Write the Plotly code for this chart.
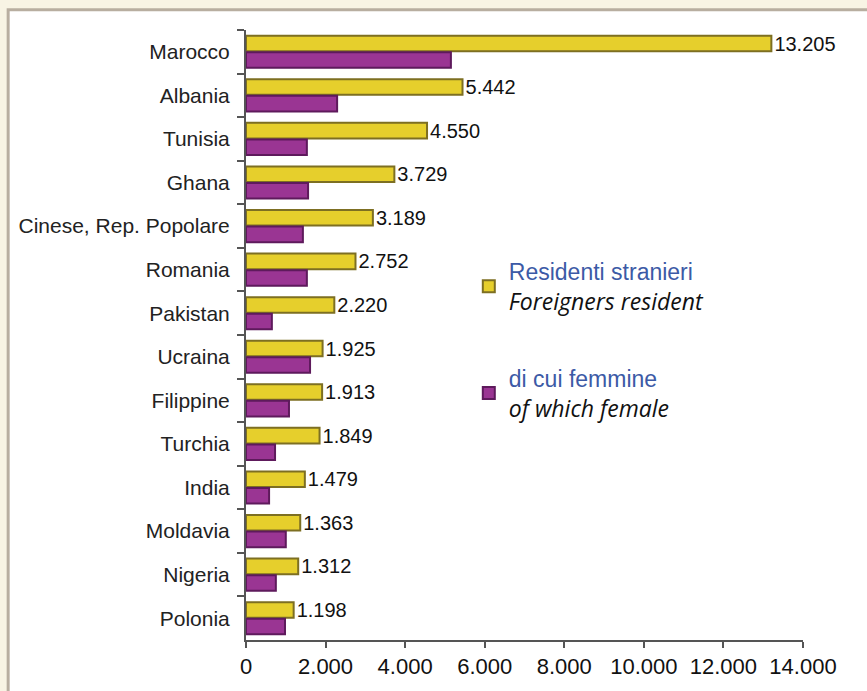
import plotly.graph_objects as go

countries = ["Marocco", "Albania", "Tunisia", "Ghana", "Cinese, Rep. Popolare", "Romania",
             "Pakistan", "Ucraina", "Filippine", "Turchia", "India", "Moldavia", "Nigeria", "Polonia"]
residents = [13205, 5442, 4550, 3729, 3189, 2752, 2220, 1925, 1913, 1849, 1479, 1363, 1312, 1198]
females = [5150, 2290, 1530, 1560, 1430, 1530, 650, 1610, 1080, 730, 580, 1000, 750, 980]

x_ticks = [0, 2000, 4000, 6000, 8000, 10000, 12000, 14000]

SANS = "Liberation Sans, Arial, sans-serif"
BLUE = "color:#3c5aa6;font-family:Liberation Sans;font-size:23px"

fig = go.Figure()
fig.add_trace(go.Bar(
    y=countries, x=residents, orientation="h", legendgroup="res",
    name=f"<span style='{BLUE}'>Residenti stranieri</span><br><i>Foreigners resident</i>",
    marker=dict(color="#e6cf2c", line=dict(color="#7d6f22", width=2)),
    texttemplate="%{x:,d}", textposition="outside", cliponaxis=False, constraintext="none",
    textfont=dict(family=SANS, size=20, color="#111111"),
))
fig.add_trace(go.Bar(
    y=countries, x=females, orientation="h", legendgroup="fem",
    name=f"<span style='{BLUE}'>di cui femmine</span><br><i>of which female</i>",
    marker=dict(color="#9a3593", line=dict(color="#5e1a5c", width=2)),
))

fig.update_layout(
    width=867, height=691,
    margin=dict(l=246, r=64, t=30, b=51, autoexpand=False),
    paper_bgcolor="#f8f4e4",
    plot_bgcolor="rgba(0,0,0,0)",
    separators=",.",
    barmode="group", bargap=0.24, bargroupgap=0.06,
    showlegend=True,
    legend=dict(x=0.40, y=0.492, xanchor="left", yanchor="middle", traceorder="grouped",
                font=dict(family="Open Sans, sans-serif", size=23, color="#111111"),
                tracegroupgap=44, bgcolor="rgba(0,0,0,0)"),
    shapes=[dict(type="rect", xref="paper", yref="paper", layer="below",
                 x0=-0.427, x1=1.2, y0=-0.2, y1=1.033,
                 fillcolor="white", line=dict(color="#b8aea0", width=3))],
)
fig.update_xaxes(range=[0, 14000], tickvals=x_ticks, tickformat=",d", tickangle=0, automargin=False,
                 showgrid=False, zeroline=False, showline=True, linecolor="#555555", linewidth=2,
                 ticks="outside", ticklen=6, tickcolor="#555555", tickwidth=2,
                 tickfont=dict(family=SANS, size=22, color="#111111"))
fig.update_yaxes(autorange="reversed", showgrid=False, showline=True, linecolor="#555555", linewidth=2,
                 automargin=False,
                 ticks="outside", ticklen=7, tickcolor="#555555", tickwidth=2, tickson="boundaries",
                 ticklabelstandoff=10,
                 tickfont=dict(family=SANS, size=21, color="#222222"))

fig.write_html("out.html", config={"displayModeBar": False},
               post_script="document.body.style.margin='0';document.body.style.background='#f8f4e4';")
